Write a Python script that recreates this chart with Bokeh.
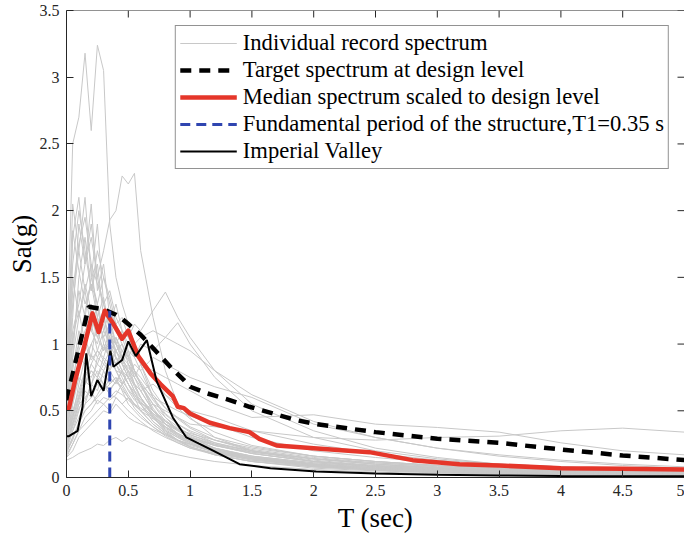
import math
from bokeh.plotting import figure
from bokeh.models import (ColumnDataSource, Legend, LegendItem, FixedTicker,
                          Range1d, Span)
from bokeh.embed import file_html
from bokeh.resources import INLINE

# ---------------- data ----------------
periods = [0, 0.05, 0.1, 0.15, 0.2, 0.25, 0.3, 0.35, 0.4, 0.45, 0.5, 0.55, 0.6,
           0.7, 0.8, 0.9, 1.0, 1.2, 1.5, 2.0, 2.5, 3.0, 3.5, 4.0, 4.5, 5.0]

g01 = [0.80, 2.50, 2.70, 3.18, 2.60, 3.24, 3.05, 1.90, 1.50, 1.30, 1.15, 1.00, 0.85, 0.60, 0.45, 0.36, 0.30, 0.22, 0.15, 0.09, 0.06, 0.04, 0.03, 0.025, 0.02, 0.018]
g02 = [0.50, 1.20, 1.90, 1.60, 1.80, 1.50, 1.70, 1.93, 2.00, 2.26, 2.20, 2.28, 1.70, 1.20, 0.80, 0.55, 0.45, 0.30, 0.20, 0.12, 0.08, 0.05, 0.04, 0.03, 0.025, 0.02]
g03 = [0.60, 2.05, 1.70, 2.10, 1.50, 1.90, 1.30, 1.10, 0.90, 0.80, 0.70, 0.60, 0.50, 0.40, 0.33, 0.28, 0.25, 0.20, 0.14, 0.09, 0.06, 0.04, 0.03, 0.025, 0.02, 0.015]
g04 = [0.45, 1.80, 2.10, 1.60, 2.05, 1.40, 1.60, 1.20, 1.00, 0.95, 0.90, 0.80, 0.70, 0.55, 0.42, 0.35, 0.30, 0.22, 0.16, 0.10, 0.07, 0.05, 0.04, 0.03, 0.025, 0.02]
g05 = [0.30, 0.45, 0.60, 0.75, 0.85, 0.95, 0.90, 1.05, 1.00, 1.10, 1.05, 1.15, 1.10, 1.25, 1.39, 1.20, 1.05, 0.80, 0.55, 0.35, 0.22, 0.15, 0.10, 0.08, 0.06, 0.05]
g06 = [0.25, 0.40, 0.55, 0.70, 0.80, 0.75, 0.90, 0.85, 0.95, 1.00, 0.90, 1.00, 1.05, 1.10, 1.05, 1.16, 1.00, 0.75, 0.50, 0.30, 0.20, 0.14, 0.10, 0.08, 0.06, 0.05]
g07 = [0.20, 0.30, 0.40, 0.50, 0.55, 0.60, 0.65, 0.70, 0.75, 0.70, 0.80, 0.75, 0.85, 0.80, 0.75, 0.70, 0.65, 0.55, 0.45, 0.47, 0.40, 0.375, 0.34, 0.26, 0.20, 0.17]
g08 = [0.15, 0.25, 0.35, 0.40, 0.45, 0.50, 0.55, 0.50, 0.60, 0.55, 0.60, 0.55, 0.50, 0.55, 0.50, 0.45, 0.40, 0.38, 0.35, 0.30, 0.28, 0.30, 0.31, 0.35, 0.37, 0.34]
g09 = [0.25, 0.35, 0.45, 0.55, 0.60, 0.70, 0.65, 0.75, 0.70, 0.80, 0.75, 0.85, 0.80, 0.90, 0.85, 0.80, 0.75, 0.68, 0.60, 0.40, 0.30, 0.22, 0.16, 0.12, 0.09, 0.07]
g10 = [0.35, 0.90, 1.50, 1.80, 1.40, 1.70, 1.50, 1.30, 1.10, 1.00, 0.85, 0.70, 0.60, 0.45, 0.35, 0.28, 0.23, 0.17, 0.12, 0.07, 0.05, 0.035, 0.025, 0.02, 0.015, 0.012]
g11 = [0.40, 1.10, 1.30, 1.60, 1.90, 1.50, 1.30, 1.40, 1.20, 1.10, 0.95, 0.80, 0.70, 0.50, 0.40, 0.32, 0.27, 0.20, 0.14, 0.08, 0.06, 0.04, 0.03, 0.025, 0.02, 0.015]
g12 = [0.55, 1.50, 1.20, 1.40, 1.10, 1.30, 1.00, 0.90, 0.80, 0.70, 0.62, 0.55, 0.50, 0.40, 0.33, 0.28, 0.24, 0.19, 0.14, 0.09, 0.06, 0.045, 0.035, 0.03, 0.025, 0.02]
g13 = [0.30, 0.70, 1.00, 1.20, 1.10, 1.00, 1.20, 1.05, 0.95, 0.85, 0.80, 0.70, 0.65, 0.50, 0.40, 0.33, 0.28, 0.22, 0.16, 0.11, 0.08, 0.06, 0.05, 0.04, 0.035, 0.03]
g14 = [0.20, 0.45, 0.70, 0.90, 1.00, 1.10, 0.95, 1.00, 0.90, 0.85, 0.75, 0.65, 0.60, 0.48, 0.40, 0.35, 0.30, 0.25, 0.20, 0.14, 0.10, 0.07, 0.05, 0.04, 0.035, 0.03]
g15 = [0.15, 0.20, 0.30, 0.35, 0.40, 0.45, 0.50, 0.48, 0.55, 0.50, 0.45, 0.42, 0.40, 0.36, 0.32, 0.28, 0.25, 0.20, 0.15, 0.10, 0.07, 0.05, 0.04, 0.03, 0.025, 0.02]
g16 = [0.13, 0.15, 0.18, 0.20, 0.22, 0.25, 0.24, 0.28, 0.30, 0.27, 0.30, 0.28, 0.26, 0.22, 0.19, 0.17, 0.15, 0.12, 0.09, 0.06, 0.04, 0.03, 0.025, 0.02, 0.015, 0.012]
g17 = [0.20, 0.35, 0.50, 0.65, 0.60, 0.75, 0.70, 0.65, 0.72, 0.68, 0.60, 0.55, 0.52, 0.45, 0.40, 0.36, 0.33, 0.28, 0.22, 0.16, 0.12, 0.09, 0.07, 0.055, 0.045, 0.04]
g18 = [0.45, 1.00, 1.40, 1.20, 1.50, 1.30, 1.10, 1.00, 1.05, 0.90, 0.80, 0.70, 0.60, 0.46, 0.36, 0.30, 0.26, 0.20, 0.15, 0.10, 0.07, 0.05, 0.04, 0.03, 0.025, 0.02]
g19 = [0.35, 0.80, 1.10, 0.95, 1.30, 1.15, 1.25, 0.95, 0.85, 0.75, 0.65, 0.58, 0.55, 0.42, 0.34, 0.28, 0.23, 0.17, 0.12, 0.08, 0.055, 0.04, 0.03, 0.025, 0.02, 0.015]
g20 = [0.25, 0.55, 0.80, 1.05, 0.90, 1.20, 1.05, 1.15, 1.30, 1.10, 1.00, 0.90, 0.80, 0.60, 0.48, 0.40, 0.34, 0.26, 0.19, 0.13, 0.09, 0.07, 0.05, 0.04, 0.035, 0.03]
g21 = [0.50, 1.30, 1.70, 1.40, 1.60, 1.20, 1.35, 1.10, 0.95, 1.00, 0.90, 0.75, 0.65, 0.50, 0.42, 0.36, 0.30, 0.24, 0.18, 0.12, 0.085, 0.06, 0.045, 0.035, 0.03, 0.025]
g22 = [0.18, 0.30, 0.40, 0.55, 0.70, 0.65, 0.80, 0.90, 0.85, 0.95, 0.88, 0.80, 0.75, 0.62, 0.52, 0.45, 0.38, 0.30, 0.23, 0.16, 0.12, 0.09, 0.07, 0.055, 0.045, 0.04]
g23 = [0.28, 0.50, 0.65, 0.80, 0.75, 0.85, 0.80, 0.70, 0.75, 0.65, 0.55, 0.50, 0.45, 0.38, 0.32, 0.27, 0.23, 0.18, 0.14, 0.10, 0.075, 0.055, 0.045, 0.035, 0.03, 0.025]
g24 = [0.65, 1.60, 2.00, 1.70, 1.40, 1.60, 1.20, 1.00, 0.95, 0.85, 0.75, 0.65, 0.55, 0.42, 0.35, 0.30, 0.25, 0.19, 0.14, 0.09, 0.065, 0.05, 0.04, 0.03, 0.025, 0.02]
g25 = [0.22, 0.40, 0.55, 0.60, 0.65, 0.55, 0.60, 0.58, 0.62, 0.70, 0.75, 0.70, 0.65, 0.70, 0.62, 0.55, 0.50, 0.45, 0.35, 0.25, 0.18, 0.13, 0.10, 0.08, 0.065, 0.055]
g26 = [0.30, 0.45, 0.60, 0.70, 0.80, 0.75, 0.85, 0.80, 0.90, 0.85, 0.95, 0.90, 1.00, 0.95, 1.05, 1.00, 0.95, 0.80, 0.62, 0.42, 0.30, 0.22, 0.17, 0.13, 0.10, 0.08]
g27 = [0.40, 0.90, 1.20, 1.45, 1.25, 1.05, 1.15, 0.95, 0.90, 0.80, 0.70, 0.62, 0.57, 0.47, 0.38, 0.32, 0.27, 0.21, 0.16, 0.11, 0.08, 0.06, 0.045, 0.035, 0.03, 0.025]
g28 = [0.33, 0.60, 0.90, 0.85, 1.00, 0.90, 0.85, 0.95, 0.80, 0.72, 0.66, 0.60, 0.56, 0.48, 0.42, 0.37, 0.32, 0.26, 0.20, 0.14, 0.10, 0.075, 0.06, 0.05, 0.04, 0.035]
g29 = [0.17, 0.25, 0.35, 0.45, 0.50, 0.58, 0.55, 0.60, 0.65, 0.62, 0.58, 0.54, 0.50, 0.44, 0.38, 0.33, 0.29, 0.24, 0.19, 0.14, 0.11, 0.085, 0.07, 0.06, 0.05, 0.045]
g30 = [0.38, 0.85, 1.00, 1.25, 1.45, 1.30, 1.50, 1.35, 1.15, 1.05, 0.92, 0.80, 0.70, 0.52, 0.40, 0.33, 0.28, 0.21, 0.15, 0.10, 0.07, 0.05, 0.04, 0.03, 0.025, 0.02]
g31 = [0.42, 0.75, 0.95, 1.10, 1.20, 1.05, 0.95, 1.10, 1.00, 0.90, 0.85, 0.75, 0.68, 0.55, 0.45, 0.38, 0.32, 0.25, 0.18, 0.12, 0.085, 0.065, 0.05, 0.04, 0.035, 0.03]
g32 = [0.27, 0.48, 0.62, 0.78, 0.92, 0.85, 0.98, 0.90, 0.80, 0.78, 0.70, 0.64, 0.58, 0.50, 0.43, 0.36, 0.31, 0.24, 0.18, 0.12, 0.09, 0.07, 0.055, 0.045, 0.04, 0.035]
g33 = [0.48, 1.05, 1.25, 1.00, 1.15, 0.95, 0.88, 0.80, 0.72, 0.66, 0.60, 0.52, 0.47, 0.38, 0.31, 0.26, 0.22, 0.17, 0.12, 0.08, 0.055, 0.04, 0.03, 0.025, 0.02, 0.018]
g34 = [0.22, 0.38, 0.52, 0.58, 0.70, 0.80, 0.75, 0.82, 0.95, 0.88, 0.82, 0.78, 0.72, 0.58, 0.47, 0.40, 0.35, 0.28, 0.21, 0.15, 0.11, 0.08, 0.065, 0.05, 0.045, 0.04]
g35 = [0.36, 0.62, 0.85, 1.00, 0.88, 0.95, 1.10, 1.25, 1.15, 1.20, 1.05, 0.95, 0.85, 0.65, 0.52, 0.44, 0.37, 0.28, 0.20, 0.14, 0.10, 0.075, 0.06, 0.05, 0.04, 0.035]
g36 = [0.58, 1.40, 1.75, 1.95, 1.60, 1.45, 1.30, 1.15, 1.00, 0.88, 0.78, 0.68, 0.60, 0.47, 0.38, 0.31, 0.26, 0.19, 0.13, 0.085, 0.06, 0.045, 0.035, 0.03, 0.025, 0.02]
g37 = [0.19, 0.28, 0.42, 0.50, 0.55, 0.62, 0.70, 0.66, 0.72, 0.80, 0.85, 0.78, 0.70, 0.60, 0.55, 0.50, 0.46, 0.40, 0.30, 0.20, 0.15, 0.11, 0.085, 0.07, 0.06, 0.05]
g38 = [0.31, 0.55, 0.75, 0.70, 0.85, 0.78, 0.70, 0.62, 0.60, 0.55, 0.50, 0.46, 0.42, 0.35, 0.30, 0.26, 0.22, 0.18, 0.13, 0.09, 0.065, 0.05, 0.04, 0.03, 0.025, 0.02]
g39 = [0.24, 0.42, 0.58, 0.72, 0.68, 0.90, 1.00, 0.92, 1.05, 0.95, 1.00, 0.92, 0.88, 0.75, 0.62, 0.52, 0.44, 0.34, 0.24, 0.16, 0.12, 0.09, 0.07, 0.055, 0.045, 0.04]
g40 = [0.70, 1.85, 1.55, 1.30, 1.45, 1.20, 1.05, 0.92, 0.85, 0.78, 0.70, 0.62, 0.55, 0.45, 0.37, 0.31, 0.27, 0.21, 0.15, 0.10, 0.07, 0.05, 0.04, 0.03, 0.025, 0.02]

record_spectra = [g01, g02, g03, g04, g05, g06, g07, g08, g09, g10,
                  g11, g12, g13, g14, g15, g16, g17, g18, g19, g20,
                  g21, g22, g23, g24, g25, g26, g27, g28, g29, g30,
                  g31, g32, g33, g34, g35, g36, g37, g38, g39, g40]

target_T = [0.0, 0.18, 0.30, 0.40, 0.45, 0.50, 0.60, 0.70, 0.75, 0.85, 0.95, 1.00,
            1.14, 1.32, 1.48, 1.67, 1.86, 2.02, 2.5, 3.0, 3.5, 4.0, 4.5, 5.0]
target_Sa = [0.58, 1.28, 1.26, 1.22, 1.19, 1.15, 1.07, 0.97, 0.92, 0.82, 0.73, 0.68,
             0.63, 0.58, 0.53, 0.48, 0.43, 0.40, 0.34, 0.29, 0.26, 0.21, 0.165, 0.13]

median_T = [0.0, 0.02, 0.07, 0.14, 0.21, 0.26, 0.31, 0.38, 0.45, 0.50, 0.58, 0.68,
            0.76, 0.86, 0.90, 0.95, 1.0, 1.16, 1.32, 1.48, 1.56, 1.70, 2.0, 2.45,
            2.8, 3.18, 3.5, 4.0, 4.5, 5.0]
median_Sa = [0.52, 0.52, 0.73, 0.97, 1.23, 1.09, 1.25, 1.15, 1.04, 1.10, 0.91, 0.78,
             0.70, 0.61, 0.53, 0.52, 0.48, 0.41, 0.37, 0.34, 0.29, 0.24, 0.22, 0.19,
             0.13, 0.10, 0.09, 0.07, 0.065, 0.06]

iv_T = [0.0, 0.02, 0.09, 0.13, 0.16, 0.20, 0.25, 0.30, 0.355, 0.38, 0.45, 0.50,
        0.56, 0.65, 0.73, 0.86, 0.97, 1.19, 1.40, 1.65, 2.02, 2.5, 3.0, 3.5, 4.0,
        4.5, 5.0]
iv_Sa = [0.31, 0.31, 0.35, 0.53, 0.93, 0.61, 0.73, 0.65, 0.95, 0.83, 0.88, 1.02,
         0.91, 1.03, 0.72, 0.45, 0.30, 0.20, 0.10, 0.07, 0.045, 0.03, 0.02, 0.015,
         0.012, 0.01, 0.01]

T1 = 0.35
t1_T = [T1, T1]
t1_Sa = [0.0, 1.25]

x_min, x_max = 0, 5
y_min, y_max = 0, 3.5
x_ticks = [0, 0.5, 1, 1.5, 2, 2.5, 3, 3.5, 4, 4.5, 5]
x_tick_labels = ["0", "0.5", "1", "1.5", "2", "2.5", "3", "3.5", "4", "4.5", "5"]
y_ticks = [0, 0.5, 1, 1.5, 2, 2.5, 3, 3.5]
y_tick_labels = ["0", "0.5", "1", "1.5", "2", "2.5", "3", "3.5"]

legend_labels = ["Individual record spectrum",
                 "Target spectrum at design level",
                 "Median spectrum scaled to design level",
                 "Fundamental period of the structure,T1=0.35 s",
                 "Imperial Valley"]

# ---------------- figure ----------------
FONT = "Liberation Serif"
AX = "#262626"

p = figure(width=684, height=539, x_range=Range1d(x_min, x_max),
           y_range=Range1d(y_min, y_max),
           output_backend="svg", toolbar_location=None,
           min_border_left=66, min_border_right=0, min_border_top=10,
           min_border_bottom=62)
p.xgrid.visible = False
p.ygrid.visible = False
p.outline_line_color = None
p.background_fill_color = "white"
p.border_fill_color = "white"

src = ColumnDataSource(dict(xs=[periods] * len(record_spectra), ys=record_spectra))
r_gray = p.multi_line("xs", "ys", source=src, line_color="#c8c8c8", line_width=1)
r_target = p.line(target_T, target_Sa, line_color="black", line_width=4.5,
                  line_dash="11 8")
r_median = p.line(median_T, median_Sa, line_color="#e5362a", line_width=4.5,
                  line_join="round")
r_iv = p.line(iv_T, iv_Sa, line_color="black", line_width=2)
r_t1 = p.line(t1_T, t1_Sa, line_color="#2f45b0", line_width=3, line_dash="10 6")

# top border and inward tick marks on the top and right sides
p.add_layout(Span(location=y_max, dimension="width", line_color=AX, line_width=1))
p.ray(x=x_ticks, y=[y_max] * len(x_ticks), length=7, length_units="screen",
      angle=-math.pi / 2, line_color=AX, line_width=1)
p.ray(x=[x_max] * len(y_ticks), y=y_ticks, length=7, length_units="screen",
      angle=math.pi, line_color=AX, line_width=1)

# axes
for ax in (p.xaxis[0], p.yaxis[0]):
    ax.axis_line_color = AX
    ax.major_tick_line_color = AX
    ax.major_tick_in = 7
    ax.major_tick_out = 0
    ax.minor_tick_line_color = None
    ax.major_label_text_font = FONT
    ax.major_label_text_font_size = "16px"
    ax.major_label_text_color = AX
    ax.axis_label_text_font = FONT
    ax.axis_label_text_font_size = "27px"
    ax.axis_label_text_font_style = "normal"
    ax.axis_label_text_color = "black"

p.xaxis.ticker = FixedTicker(ticks=x_ticks)
p.xaxis.major_label_overrides = dict(zip(x_ticks, x_tick_labels))
p.xaxis.axis_label = "T (sec)"
p.xaxis.major_label_standoff = 7
p.xaxis.axis_label_standoff = 4

p.yaxis.ticker = FixedTicker(ticks=y_ticks)
p.yaxis.major_label_overrides = dict(zip(y_ticks, y_tick_labels))
p.yaxis.axis_label = "Sa(g)"
p.yaxis.major_label_standoff = 7
p.yaxis.axis_label_standoff = 0

legend = Legend(items=[LegendItem(label=legend_labels[0], renderers=[r_gray]),
                       LegendItem(label=legend_labels[1], renderers=[r_target]),
                       LegendItem(label=legend_labels[2], renderers=[r_median]),
                       LegendItem(label=legend_labels[3], renderers=[r_t1]),
                       LegendItem(label=legend_labels[4], renderers=[r_iv])],
                location="top_right", margin=15, padding=4, spacing=1,
                label_height=24, glyph_height=24, glyph_width=57, label_standoff=6,
                label_text_font=FONT, label_text_font_size="22.6px",
                label_text_color="black",
                border_line_color=AX, border_line_width=1,
                background_fill_color="white", background_fill_alpha=1)
p.add_layout(legend)

open("out.html", "w").write(file_html(p, INLINE))
